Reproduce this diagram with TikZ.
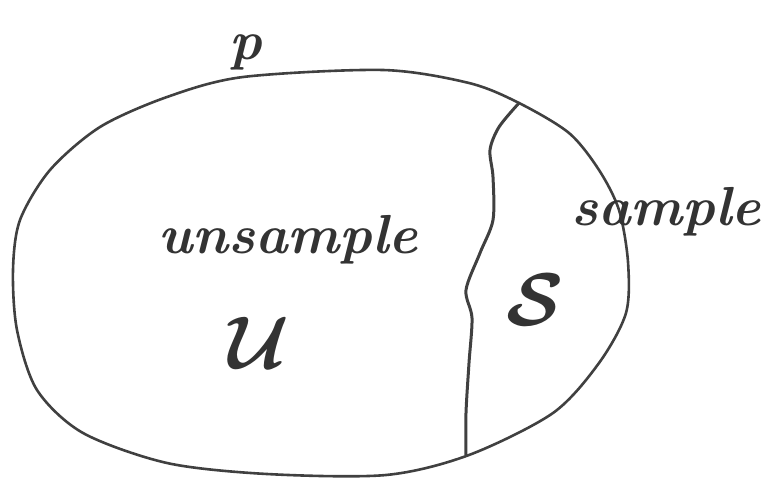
\documentclass[tikz,border=0pt]{standalone}
\begin{document}
\begin{tikzpicture}[x=1pt,y=-1pt,
        pen/.style={draw=black!75,line width=2.6pt,line cap=round,line join=round},
        word/.style={text=black!80,font=\fontsize{55}{60}\selectfont\bfseries\itshape},
        sym/.style={text=black!80,font=\Huge\mathversion{bold}}]
    \useasboundingbox (0,0) rectangle (772,483);
    \draw[pen] plot[smooth cycle] coordinates {(13,270) (20,220) (50,170) (100,127) (167,97) (243,77) (383,70) (469,83) (519,103) (569,133) (599,170) (619,210) (628,262) (626,313) (599,363) (553,413) (469,455) (386,475) (267,474) (167,463) (83,433) (37,390) (17,330)};
    \coordinate (top) at (519,103);
    \coordinate (bot) at (466,455);
    \draw[pen,line width=3pt] plot[smooth] coordinates {(top) (499,127) (490,150) (493,177) (493,220) (480,253) (466,290) (472,318) (469,363) (466,413) (bot)};
    \node[word] (p) at (246,52) {p};
    \node[word,anchor=base] (unsample) at (288,253) {unsample};
    \node[sym] (U) at (259,343) {\scalebox{3}{$\mathcal{U}$}};
    \node[word,anchor=base] (sample) at (666,225) {sample};
    \node[sym] (S) at (535,300) {\scalebox{3}{$\mathcal{S}$}};
\end{tikzpicture}
\end{document}
